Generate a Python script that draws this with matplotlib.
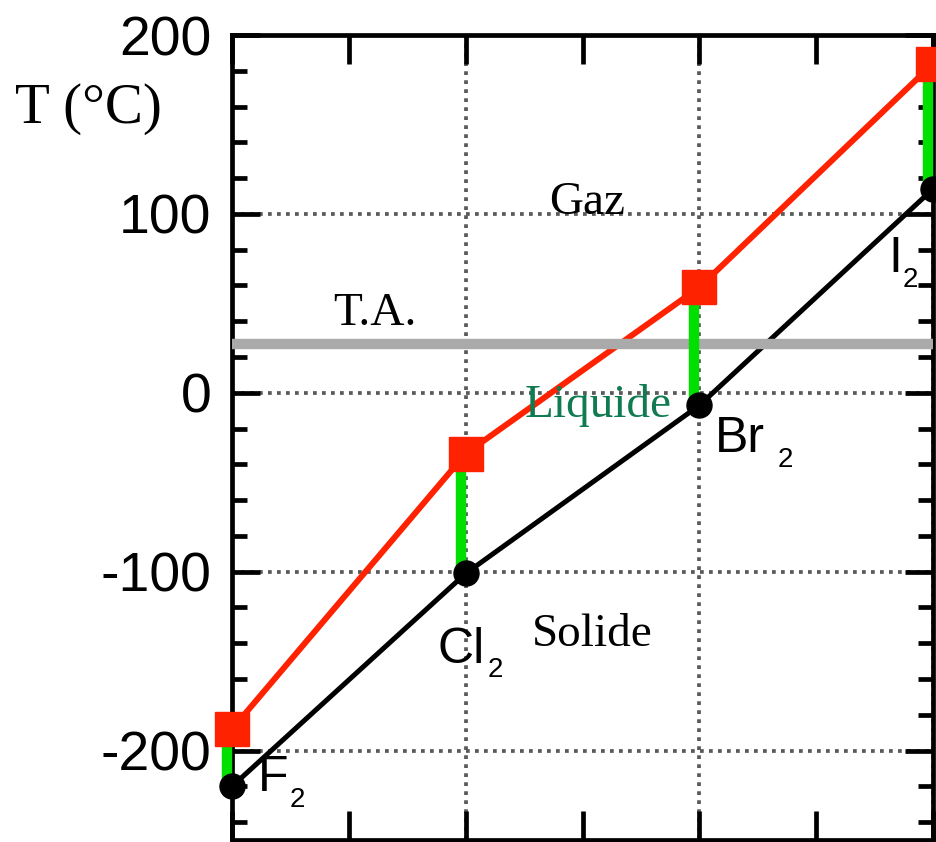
import numpy as np
import matplotlib
matplotlib.use("Agg")
import matplotlib.pyplot as plt
from matplotlib.ticker import MultipleLocator, FuncFormatter
from matplotlib.transforms import ScaledTranslation

# halogens: melting / boiling points (deg C)
halogens = ["F", "Cl", "Br", "I"]
t_fusion = [-220, -101, -7, 114]
t_ebullition = [-188, -34, 59, 184]
t_ambiante = 27

# label offsets (pixels) for the element names relative to the melting point
name_offsets = [(26, 8), (-28, -77), (15, -34), (-45, -70)]
sub_offsets = [(58, -14), (22, -97), (78, -55), (-30, -91)]

serif = "Liberation Serif"
sans = "Liberation Sans"

fig = plt.figure(figsize=(9.36, 8.42), dpi=100)
ax = fig.add_axes([0.2479, 0.0024, 0.749, 0.956])

x = np.arange(len(halogens))

# green bars = liquid range
shift = ScaledTranslation(-5 / 100, 0, fig.dpi_scale_trans)
ax.vlines(x, t_fusion, t_ebullition, colors="#00e000", linewidth=7.5,
          transform=ax.transData + shift, zorder=5.5, clip_on=False)

ax.plot(x, t_ebullition, color="#ff2200", linewidth=4.3, zorder=4, clip_on=False)
ax.plot(x, t_fusion, color="black", linewidth=3.6, zorder=4, clip_on=False)
ax.plot(x, t_ebullition, linestyle="none", marker="s", markersize=24,
        color="#ff2200", zorder=6, clip_on=False)
ax.plot(x, t_fusion, linestyle="none", marker="o", markersize=18,
        color="black", zorder=6, clip_on=False)

# ambient temperature
ax.axhline(t_ambiante, xmin=0, xmax=0.993, color="#aaaaaa", linewidth=7.5, zorder=5)

ax.set_xlim(0, 3)
ax.set_ylim(-250, 200)

ax.xaxis.set_major_locator(MultipleLocator(1))
ax.xaxis.set_minor_locator(MultipleLocator(0.5))
ax.yaxis.set_major_locator(MultipleLocator(100))
ax.yaxis.set_minor_locator(MultipleLocator(20))
ax.yaxis.set_major_formatter(FuncFormatter(lambda v, p: "%d" % v))
ax.set_xticklabels([])
ax.tick_params(axis="both", which="both", direction="in", top=True, right=True,
               width=3.4, color="black")
ax.tick_params(axis="x", which="both", length=21, labelbottom=False)
ax.tick_params(axis="y", which="major", length=20, pad=15)
ax.tick_params(axis="y", which="minor", length=11)
for lab in ax.get_yticklabels():
    lab.set_fontfamily(sans)
    lab.set_fontsize(40)

for s in ax.spines.values():
    s.set_linewidth(3.4)

ax.grid(True, which="major", linestyle=(0, (1.0, 1.4)), color="#5a5a5a",
        linewidth=2.7, zorder=1)
ax.set_axisbelow(True)

# phase labels
ax.text(1.52, 106, "Gaz", fontfamily=serif, fontsize=34, ha="center", va="center")
ax.text(1.565, -7, "Liquide", fontfamily=serif, fontsize=34, color="#107a50",
        ha="center", va="center", zorder=7)
ax.text(1.54, -135, "Solide", fontfamily=serif, fontsize=34, ha="center", va="center")
ax.text(0.61, 44, "T.A.", fontfamily=serif, fontsize=34, ha="center", va="center")

fig.text(0.016, 0.87, "T (°C)", fontfamily=serif, fontsize=41, ha="left", va="center")

# element names with subscript 2
for xi, ty, name, off, soff in zip(x, t_fusion, halogens, name_offsets, sub_offsets):
    ax.annotate(name, (xi, ty), xytext=off, textcoords="offset pixels",
                fontfamily=sans, fontsize=36, ha="left", va="center", zorder=8,
                annotation_clip=False)
    ax.annotate("2", (xi, ty), xytext=soff, textcoords="offset pixels",
                fontfamily=sans, fontsize=20, ha="left", va="center", zorder=8,
                annotation_clip=False)

fig.savefig("out.png", dpi=100)
